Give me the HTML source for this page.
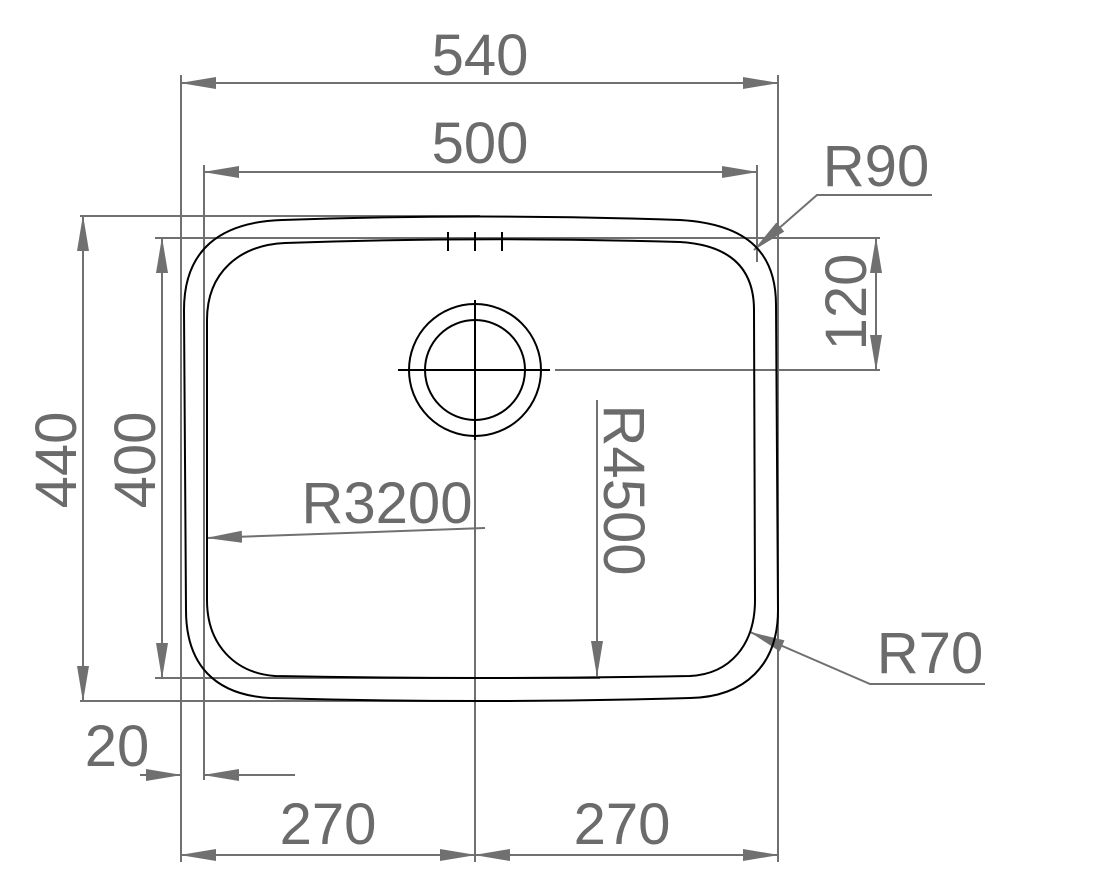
<!DOCTYPE html>
<html><head><meta charset="utf-8"><style>html,body{margin:0;padding:0;background:#fff}svg{display:block}</style></head>
<body>
<svg width="1100" height="877" viewBox="0 0 1100 877" xmlns="http://www.w3.org/2000/svg">
<defs>
<marker id="a" markerWidth="36" markerHeight="14" refX="35" refY="7" orient="auto" markerUnits="userSpaceOnUse"><path d="M0,1 L36,7 L0,13 Z" fill="#707070"/></marker>
<marker id="b" markerWidth="36" markerHeight="14" refX="1" refY="7" orient="auto" markerUnits="userSpaceOnUse"><path d="M36,1 L0,7 L36,13 Z" fill="#707070"/></marker>
</defs>
<g stroke="#707070" stroke-width="2" fill="none">
<line x1="181" y1="75" x2="181" y2="862"/>
<line x1="778" y1="75" x2="778" y2="862"/>
<line x1="204" y1="165" x2="204" y2="780"/>
<line x1="757" y1="165" x2="757" y2="262"/>
<line x1="80" y1="216" x2="480" y2="216"/>
<line x1="155" y1="238" x2="880" y2="238"/>
<line x1="555" y1="370" x2="880" y2="370"/>
<line x1="80" y1="701" x2="480" y2="701"/>
<line x1="155" y1="678" x2="600" y2="678"/>
<line x1="475" y1="440" x2="475" y2="862"/>
<line x1="181" y1="83" x2="778" y2="83" marker-start="url(#b)" marker-end="url(#a)"/>
<line x1="204" y1="172" x2="757" y2="172" marker-start="url(#b)" marker-end="url(#a)"/>
<line x1="83" y1="216" x2="83" y2="701" marker-start="url(#b)" marker-end="url(#a)"/>
<line x1="162" y1="238" x2="162" y2="678" marker-start="url(#b)" marker-end="url(#a)"/>
<line x1="876" y1="238" x2="876" y2="370" marker-start="url(#b)" marker-end="url(#a)"/>
<line x1="181" y1="855" x2="475" y2="855" marker-start="url(#b)" marker-end="url(#a)"/>
<line x1="475" y1="855" x2="778" y2="855" marker-start="url(#b)" marker-end="url(#a)"/>
<line x1="140" y1="775" x2="181" y2="775" marker-end="url(#a)"/>
<line x1="295" y1="775" x2="204" y2="775" marker-end="url(#a)"/>
<line x1="485" y1="528" x2="207" y2="538" marker-end="url(#a)"/>
<line x1="597" y1="400" x2="597" y2="676" marker-end="url(#a)"/>
<polyline points="932,195 817,195 754,250" marker-end="url(#a)" stroke-linejoin="miter"/>
<polyline points="985,684 870,684 750,632" marker-end="url(#a)"/>
</g>
<g stroke="#000" stroke-width="2" fill="none">
<path d="M282,220 Q480,213 680,220 C750,224 776,255 776,305 L778,610 C778,665 745,697 690,698 Q480,704 270,698 C215,695 186,665 186,610 L184,310 C184,250 220,222 282,220 Z"/>
<path d="M285,243 Q480,236 680,242 C730,245 754,268 754,310 L755,600 C755,645 730,674 690,676 Q480,680 275,676 C235,673 207,645 207,600 L207,320 C207,272 240,245 285,243 Z"/>
<circle cx="475" cy="370" r="66"/>
<circle cx="475" cy="370" r="50"/>
<line x1="398" y1="370" x2="550" y2="370"/>
<line x1="475" y1="300" x2="475" y2="440"/>
<line x1="448" y1="232" x2="448" y2="251"/>
<line x1="475" y1="232" x2="475" y2="251"/>
<line x1="502" y1="232" x2="502" y2="251"/>
</g>
<g fill="#6b6b6b" font-family="Liberation Sans, sans-serif" font-size="58">
<text x="480" y="75" text-anchor="middle">540</text>
<text x="480" y="163" text-anchor="middle">500</text>
<text x="876" y="186" text-anchor="middle">R90</text>
<text x="930" y="673" text-anchor="middle">R70</text>
<text x="387" y="523" text-anchor="middle">R3200</text>
<text x="328" y="844" text-anchor="middle">270</text>
<text x="622" y="844" text-anchor="middle">270</text>
<text x="117" y="766" text-anchor="middle">20</text>
<text transform="translate(76,460) rotate(-90)" text-anchor="middle">440</text>
<text transform="translate(155,460) rotate(-90)" text-anchor="middle">400</text>
<text transform="translate(866,302) rotate(-90)" text-anchor="middle">120</text>
<text transform="translate(604,490) rotate(90)" text-anchor="middle">R4500</text>
</g>
</svg>
</body></html>
